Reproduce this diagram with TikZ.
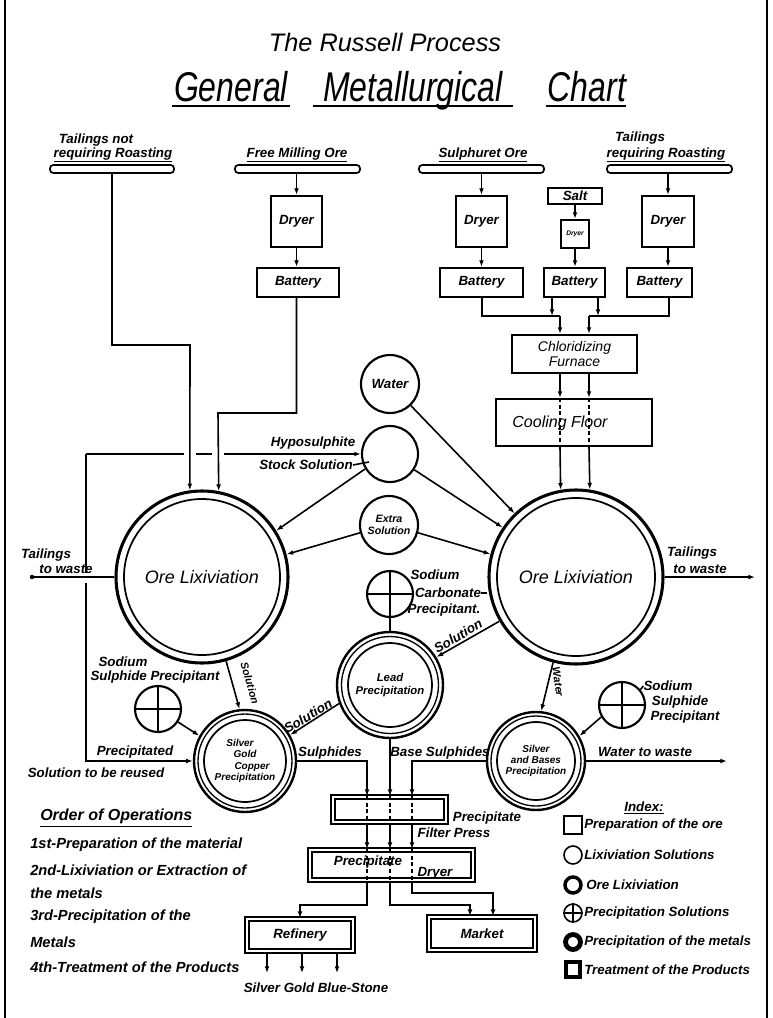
\documentclass[tikz,border=0pt]{standalone}
\usepackage{fontspec}
\setmainfont{Liberation Sans}
\usetikzlibrary{arrows.meta,calc}
\newcommand{\mkbox}[7]{\node[#1, minimum width={(#5-#3)*0.75pt}, minimum height={(#6-#4)*0.75pt}] (#2) at ({(#3+#5)/2},{(#4+#6)/2}) {#7};}
\newcommand{\mkcirc}[6]{\node[#1, circle, minimum size={2*#5*0.75pt}] (#2) at (#3,#4) {#6};}
\newcommand{\plusin}[1]{\draw[line width=1.3pt] (#1.north) -- (#1.south) (#1.west) -- (#1.east);}
\begin{document}
\begin{tikzpicture}[x=0.75pt,y=-0.75pt,
  txt/.style={font=\bfseries\itshape\fontsize{10}{12}\selectfont, inner sep=0pt, align=center},
  rtxt/.style={font=\bfseries\itshape\fontsize{8}{9}\selectfont, inner sep=0pt},
  optxt/.style={font=\bfseries\itshape\fontsize{11}{12}\selectfont, inner sep=0pt, anchor=west},
  ttl/.style={font=\itshape\fontsize{24}{26}\selectfont, inner sep=0pt, anchor=base},
  boxn/.style={draw, line width=1.6pt, inner sep=0pt, font=\bfseries\itshape\fontsize{10}{12}\selectfont, align=center},
  dboxn/.style={draw, line width=1.3pt, double=white, double distance=2.2pt, inner sep=0pt, font=\bfseries\itshape\fontsize{10}{12}\selectfont},
  barn/.style={draw, line width=1.3pt, rounded corners=2.5pt, inner sep=0pt},
  soln/.style={draw, line width=1.6pt, inner sep=0pt, font=\bfseries\itshape\fontsize{10}{12}\selectfont, align=center},
  oren/.style={draw, line width=2.3pt, inner sep=0pt, font=\itshape\fontsize{13.5}{15}\selectfont},
  pren/.style={draw, line width=1.8pt, inner sep=0pt, font=\bfseries\itshape\fontsize{7.5}{8.5}\selectfont, align=center},
  ring/.style={line width=1.3pt},
  ln/.style={line width=1.2pt},
  arr/.style={ln, -{Latex[length=5pt,width=3.6pt]}},
  pass/.style={line width=0.9pt, dash pattern=on 3pt off 2pt},
]
\useasboundingbox (0,0) rectangle (772,1018);
% frame
\draw[line width=2.2pt] (5,0) -- (5,1018);
\draw[line width=1.2pt] (767,0) -- (767,1018);

% title
\node[font=\itshape\fontsize{19}{21}\selectfont, inner sep=0pt] (title) at (385,42) {The Russell Process};
\node[ttl] (tg) at (231,101) {\scalebox{1}[1.3]{General}};
\node[ttl] (tm) at (413,101) {\scalebox{1}[1.3]{Metallurgical}};
\node[ttl] (tc) at (587,101) {\scalebox{1}[1.3]{Chart}};
\draw[line width=1.3pt] (172,106) -- (290,106) (313,106) -- (513,106) (546,106) -- (626,106);

% top sources
\node[txt] (t1a) at (96,140) {Tailings not};
\node[txt] (t1b) at (113,155) {\underline{requiring Roasting}};
\mkbox{barn}{T1}{50}{165}{174}{173}{}
\node[txt] (fml) at (297,155) {\underline{Free Milling Ore}};
\mkbox{barn}{FM}{235}{165}{360}{173}{}
\node[txt] (sul) at (483,155) {\underline{Sulphuret Ore}};
\mkbox{barn}{SO}{419}{165}{544}{173}{}
\node[txt] (t2a) at (640,138) {Tailings};
\node[txt] (t2b) at (666,155) {\underline{requiring Roasting}};
\mkbox{barn}{T2}{607}{165}{732}{173}{}

% preparation boxes
\mkbox{boxn}{D1}{271}{196}{322}{247}{Dryer}
\mkbox{boxn}{B1}{257}{268}{339}{297}{Battery}
\mkbox{boxn}{D2}{456}{196}{507}{247}{Dryer}
\mkbox{boxn}{B2}{440}{268}{523}{297}{Battery}
\mkbox{boxn}{SA}{548}{188}{602}{204}{Salt}
\mkbox{boxn, font=\bfseries\itshape\fontsize{5}{6}\selectfont}{D3}{561}{220}{589}{248}{Dryer}
\mkbox{boxn}{B3}{544}{268}{605}{297}{Battery}
\mkbox{boxn}{D4}{642}{196}{694}{247}{Dryer}
\mkbox{boxn}{B4}{627}{268}{692}{297}{Battery}
\mkbox{boxn, font=\itshape\fontsize{10.5}{12}\selectfont}{FU}{512}{335}{637}{373}{Chloridizing\\[-1pt]Furnace}
\mkbox{boxn}{CF}{496}{399}{652}{446}{}
\node[font=\itshape\fontsize{12}{14}\selectfont, inner sep=0pt] (cft) at (560,423) {Cooling Floor};

\draw[arr] (FM.south -| D1) -- (D1.north);
\draw[arr] (D1.south) -- (B1.north -| D1.south);
\draw[arr] (SO.south -| D2) -- (D2.north);
\draw[arr] (D2.south) -- (B2.north -| D2.south);
\draw[arr] (SA.south -| D3) -- (D3.north);
\draw[arr] (D3.south) -- (B3.north -| D3.south);
\draw[arr] (T2.south -| D4) -- (D4.north);
\draw[arr] (D4.south) -- (B4.north -| D4.south);

% to chloridizing furnace
\coordinate (h1) at (482,316);
\coordinate (h2) at (560,316);
\coordinate (h3) at (669,316);
\coordinate (h4) at (589,316);
\coordinate (s1) at (552,316);
\coordinate (s2) at (598,316);
\draw[ln] (B2.south -| h1) -- (h1) -- (h2);
\draw[arr] (h2) -- (FU.north -| h2);
\draw[ln] (B4.south -| h3) -- (h3) -- (h4);
\draw[arr] (h4) -- (FU.north -| h4);
\draw[arr] (B3.south -| s1) -- (s1);
\draw[arr] (B3.south -| s2) -- (s2);
\draw[arr] (FU.south -| h2) -- (CF.north -| h2);
\draw[arr] (FU.south -| h4) -- (CF.north -| h4);
\draw[pass] (CF.north -| h2) -- (CF.south -| h2);
\draw[pass] (CF.north -| h4) -- (CF.south -| h4);

% lixiviation circles
\mkcirc{oren}{L}{202}{577}{86}{Ore Lixiviation}
\draw[ring] (L.center) circle (78);
\mkcirc{oren}{R}{576}{577}{87}{Ore Lixiviation}
\draw[ring] (R.center) circle (79);

\draw[arr] (CF.south -| h2) -- (R.100);
\draw[arr] (CF.south -| h4) -- (R.81);

% solution circles
\mkcirc{soln}{W}{390}{384}{29}{Water}
\mkcirc{soln}{H}{390}{454}{28}{}
\mkcirc{soln, font=\bfseries\itshape\fontsize{8}{9}\selectfont}{E}{389}{525}{29}{Extra\\Solution}
\mkcirc{soln}{SC}{390}{594}{23}{}
\plusin{SC}

\draw[arr] (W.-46) -- (R.134);
\draw[arr] (H.211) -- (L.32);
\draw[arr] (H.-33) -- (R.146);
\draw[arr] (E.195) -- (L.15);
\draw[arr] (E.-15) -- (R.165);

\node[txt] (hy1) at (313,443) {Hyposulphite};
\node[txt] (hy2) at (306,465) {Stock Solution};
\draw[ln] (hy2.east) -- ++(16,-3);

% feeds into left circle
\coordinate (j0) at (112,345);
\coordinate (j0b) at (190,345);
\draw[arr] (T1.south) -- (j0) -- (j0b) -- (L.98);
\coordinate (j1) at (218,413);
\draw[arr] (B1.south -| D1) |- (j1) -- (L.79.3);

% hyposulphite line and return
\coordinate (q1) at (86,454);
\coordinate (g1a) at (184,454);
\coordinate (g1b) at (196,454);
\coordinate (g2a) at (212,454);
\coordinate (g2b) at (224,454);
\draw[ln] (q1) -- (g1a) (g1b) -- (g2a);
\draw[arr] (g2b) -- (H.west);
\coordinate (q2) at (86,573);
\coordinate (q3) at (86,583);
\coordinate (q4) at (86,761);
\draw[ln] (q1) -- (q2);

% tailings
\coordinate (tw1) at (32,577);
\coordinate (tw2) at (755,577);
\draw[ln] (L.west) -- (tw1);
\fill (tw1) circle (2.2);
\draw[arr] (R.east) -- (tw2);
\node[txt] (tl1) at (46,555) {Tailings};
\node[txt] (tl2) at (66,569) {to waste};
\node[txt] (tr1) at (692,553) {Tailings};
\node[txt] (tr2) at (700,569) {to waste};

% sodium carbonate
\node[txt] (sc1) at (435,575) {Sodium};
\node[txt] (sc2) at (448,593) {Carbonate};
\node[txt] (sc3) at (444,610) {Precipitant.};
\draw[ln] (sc2.east) -- (R.west |- sc2.east);

% precipitation circles
\mkcirc{pren, font=\bfseries\itshape\fontsize{8.5}{10}\selectfont}{P}{390}{685}{53}{Lead\\Precipitation}
\draw[line width=1pt] (P.center) circle (48.5);
\draw[ring] (P.center) circle (42);
\mkcirc{pren}{S1}{245}{761}{51}{Silver\hspace*{1em}\\Gold\hspace*{1.2em}\\\hspace*{1.4em}Copper\\Precipitation}
\draw[line width=1pt] (S1.center) circle (47);
\draw[ring] (S1.center) circle (41);
\mkcirc{pren}{S2}{536}{761}{49}{Silver\\and Bases\\Precipitation}
\draw[line width=1pt] (S2.center) circle (45);
\draw[ring] (S2.center) circle (39);

\mkcirc{soln}{SS1}{158}{709}{23}{}
\plusin{SS1}
\mkcirc{soln}{SS2}{622}{705}{23}{}
\plusin{SS2}

\draw[ln] (SC.south) -- (P.north);
\draw[arr] (R.210) -- (P.31);
\draw[arr] (P.200) -- (S1.30);
\draw[arr] (L.-74) -- (S1.96);
\draw[arr] (SS1.-33) -- (S1.151);
\draw[arr] (R.255) -- (S2.84);
\draw[arr] (SS2.210) -- (S2.30);
\draw[arr] (q3) -- (q4) -- (S1.west);
\coordinate (ww) at (727,761);
\draw[arr] (S2.east) -- (ww);

\node[txt, rotate=31] (so1) at (308,716) {Solution};
\node[txt, rotate=30] (so2) at (458,636) {Solution};
\node[rtxt, rotate=-74] (so3) at (250,683) {Solution};
\node[rtxt, rotate=-82] (wa1) at (558,682) {Water};

\node[txt] (ss1a) at (123,662) {Sodium};
\node[txt] (ss1b) at (155,677) {Sulphide Precipitant};
\node[txt] (ss2a) at (668,686) {Sodium};
\node[txt] (ss2b) at (680,702) {Sulphide};
\node[txt] (ss2c) at (685,717) {Precipitant};
\draw[ln] (SS2.40) -- (ss2a.west);
\node[txt] (wtw) at (645,752) {Water to waste};
\node[txt] (pr1) at (135,752) {Precipitated};
\node[txt] (pr2) at (96,773) {Solution to be reused};
\node[txt] (sph) at (330,753) {Sulphides};
\node[txt] (bsp) at (440,753) {Base Sulphides};

% products
\coordinate (cA) at (367,0);
\coordinate (cB) at (390,0);
\coordinate (cC) at (412,0);
\mkbox{dboxn}{FP}{333}{797}{446}{822}{}
\mkbox{dboxn}{DR}{310}{850}{473}{880}{}
\mkbox{dboxn}{RF}{247}{919}{353}{951}{Refinery}
\mkbox{dboxn}{MK}{429}{917}{535}{950}{Market}
\draw[arr] (S1.east) -| (FP.north -| cA);
\draw[arr] (P.south) -- (FP.north -| cB);
\draw[arr] (S2.west) -| (FP.north -| cC);
\foreach \c in {cA,cB,cC}{
  \draw[pass] (FP.north -| \c) -- (FP.south -| \c);
  \draw[arr] (FP.south -| \c) -- (DR.north -| \c);
  \draw[pass] (DR.north -| \c) -- (DR.south -| \c);
}
\node[txt] (fp1) at (487,818) {Precipitate};
\node[txt] (fp2) at (454,833) {Filter Press};
\node[txt] (dr1) at (368,862) {Precipitate};
\node[txt] (dr2) at (435,873) {Dryer};

\coordinate (rA) at (300,905);
\coordinate (mB) at (470,905);
\coordinate (mC) at (493,893);
\draw[arr] (DR.south -| cA) |- (rA) -- (RF.north);
\draw[arr] (DR.south -| cB) |- (mB) -- (MK.north -| mB);
\draw[arr] (DR.south -| cC) |- (mC) -- (MK.north -| mC);
\coordinate (o1) at (267,973);
\coordinate (o2) at (302,973);
\coordinate (o3) at (337,973);
\foreach \o in {o1,o2,o3}{ \draw[arr] (RF.south -| \o) -- (\o); }
\node[txt] (out) at (316,988) {Silver Gold Blue-Stone};

% order of operations
\node[font=\bfseries\itshape\fontsize{12}{14}\selectfont, inner sep=0pt, anchor=west] (oo) at (40,818) {\underline{Order of Operations}};
\node[optxt] (oo1) at (30,845) {1st-Preparation of the material};
\node[optxt] (oo2) at (30,870) {2nd-Lixiviation or Extraction of};
\node[optxt] (oo3) at (30,893) {the metals};
\node[optxt] (oo4) at (30,917) {3rd-Precipitation of the};
\node[optxt] (oo5) at (30,942) {Metals};
\node[optxt] (oo6) at (30,967) {4th-Treatment of the Products};

% index
\node[txt] (ix) at (644,808) {\underline{Index:}};
\mkbox{draw, line width=1.2pt, inner sep=0pt}{ix1}{564}{816}{582}{834}{}
\mkcirc{draw, line width=1.2pt, inner sep=0pt}{ix2}{573}{855}{9}{}
\mkcirc{draw, line width=2.6pt, inner sep=0pt}{ix3}{573}{885}{8}{}
\mkcirc{draw, line width=1.2pt, inner sep=0pt}{ix4}{573}{913}{9}{}
\plusin{ix4}
\mkcirc{draw, line width=3.6pt, inner sep=0pt}{ix5}{573}{942}{7.5}{}
\mkbox{draw, line width=2.8pt, inner sep=0pt}{ix6}{566}{962}{580}{977}{}
\node[optxt, font=\bfseries\itshape\fontsize{10}{12}\selectfont] (ixt1) at (584,825) {Preparation of the ore};
\node[optxt, font=\bfseries\itshape\fontsize{10}{12}\selectfont] (ixt2) at (584,855) {Lixiviation Solutions};
\node[optxt, font=\bfseries\itshape\fontsize{10}{12}\selectfont] (ixt3) at (586,885) {Ore Lixiviation};
\node[optxt, font=\bfseries\itshape\fontsize{10}{12}\selectfont] (ixt4) at (584,913) {Precipitation Solutions};
\node[optxt, font=\bfseries\itshape\fontsize{10}{12}\selectfont] (ixt5) at (584,942) {Precipitation of the metals};
\node[optxt, font=\bfseries\itshape\fontsize{10}{12}\selectfont] (ixt6) at (584,970) {Treatment of the Products};
\end{tikzpicture}
\end{document}
